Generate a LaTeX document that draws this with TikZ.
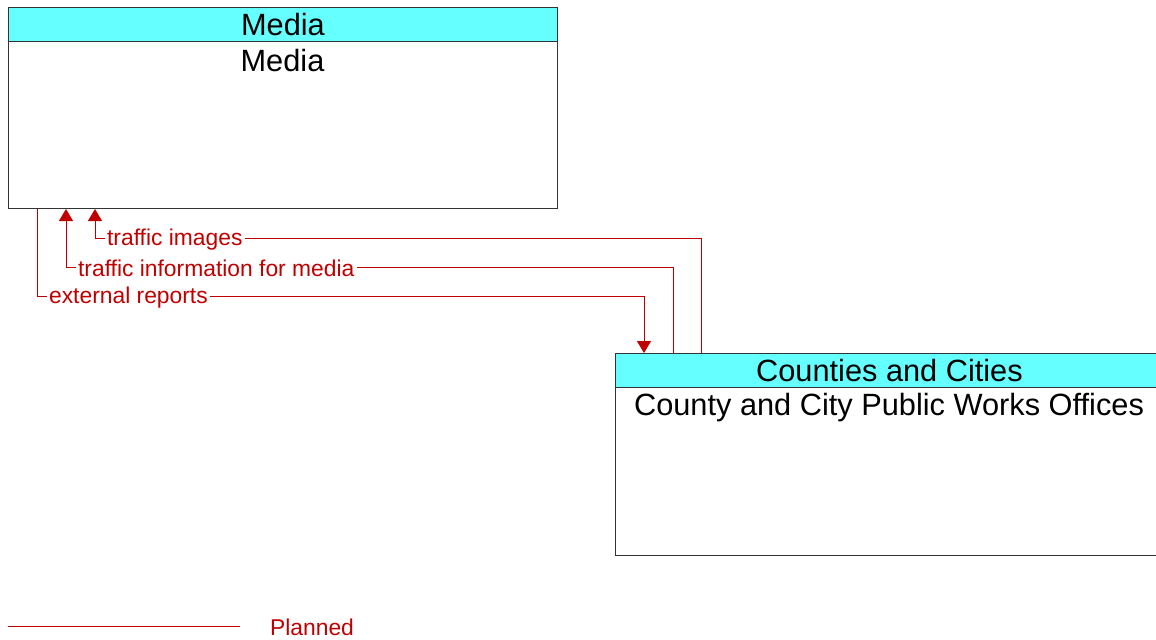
\documentclass[tikz,border=0pt]{standalone}
\usepackage{fontspec}
\setmainfont{Liberation Sans}
\usetikzlibrary{arrows.meta,positioning,calc}
\definecolor{plannedred}{RGB}{192,0,0}
\definecolor{headcyan}{RGB}{102,255,255}

\begin{document}
\begin{tikzpicture}[x=0.02cm, y=-0.02cm,
      body/.style={draw=black!80, fill=white, line width=0.6pt, anchor=north west, inner sep=0pt},
      head/.style={draw=black!80, fill=headcyan, line width=0.6pt, anchor=north west,
                   inner sep=0pt, minimum height=0.68cm, font=\fontsize{17.5}{20}\selectfont},
      title/.style={font=\fontsize{17.5}{20}\selectfont, inner sep=0pt},
      flowlabel/.style={text=plannedred, font=\fontsize{13}{15}\selectfont, inner sep=1pt, anchor=west},
      planned/.style={draw=plannedred, line width=0.5pt},
      arr/.style={planned, -{Triangle[width=0.28cm,length=0.24cm]}}
    ]
      \useasboundingbox (0,0) rectangle (1156,639);

      % Media element
      \node[body, minimum width=10.98cm, minimum height=4.02cm] (media) at (8,7) {};
      \node[head, minimum width=10.98cm] (mediahead) at (media.north west) {Media};
      \node[title] (mediatext) at (282.5,61) {Media};

      % Counties and Cities element
      \node[body, minimum width=10.96cm, minimum height=4.04cm] (cc) at (615,353) {};
      \node[head, minimum width=10.96cm] (cchead) at (cc.north west) {Counties and Cities};
      \node[title] (cctext) at (889,408) {County and City Public Works Offices};

      % flows
      \node[flowlabel] (lblimages) at (105,239.5) {traffic images};
      \node[flowlabel] (lblinfo) at (76,268.5) {traffic information for media};
      \node[flowlabel] (lblext) at (47,297.5) {external reports};

      \draw[planned] ($(cc.north west)+(86,0)$) |- ($(lblimages.east)+(0,-1.5)$);
      \draw[arr] ($(lblimages.west)+(0,-1.5)$) -| ($(media.south west)+(87,0)$);

      \draw[planned] ($(cc.north west)+(58,0)$) |- ($(lblinfo.east)+(0,-1.5)$);
      \draw[arr] ($(lblinfo.west)+(0,-1.5)$) -| ($(media.south west)+(58,0)$);

      \draw[planned] ($(media.south west)+(29,0)$) |- ($(lblext.west)+(0,-1.5)$);
      \draw[arr] ($(lblext.east)+(0,-1.5)$) -| ($(cc.north west)+(29,0)$);

      % legend
      \coordinate (legstart) at (8,626);
      \coordinate (legend) at (240,626);
      \draw[planned] (legstart) -- (legend);
      \node[flowlabel] (legtext) at (268,627.5) {Planned};
    \end{tikzpicture}
\end{document}
